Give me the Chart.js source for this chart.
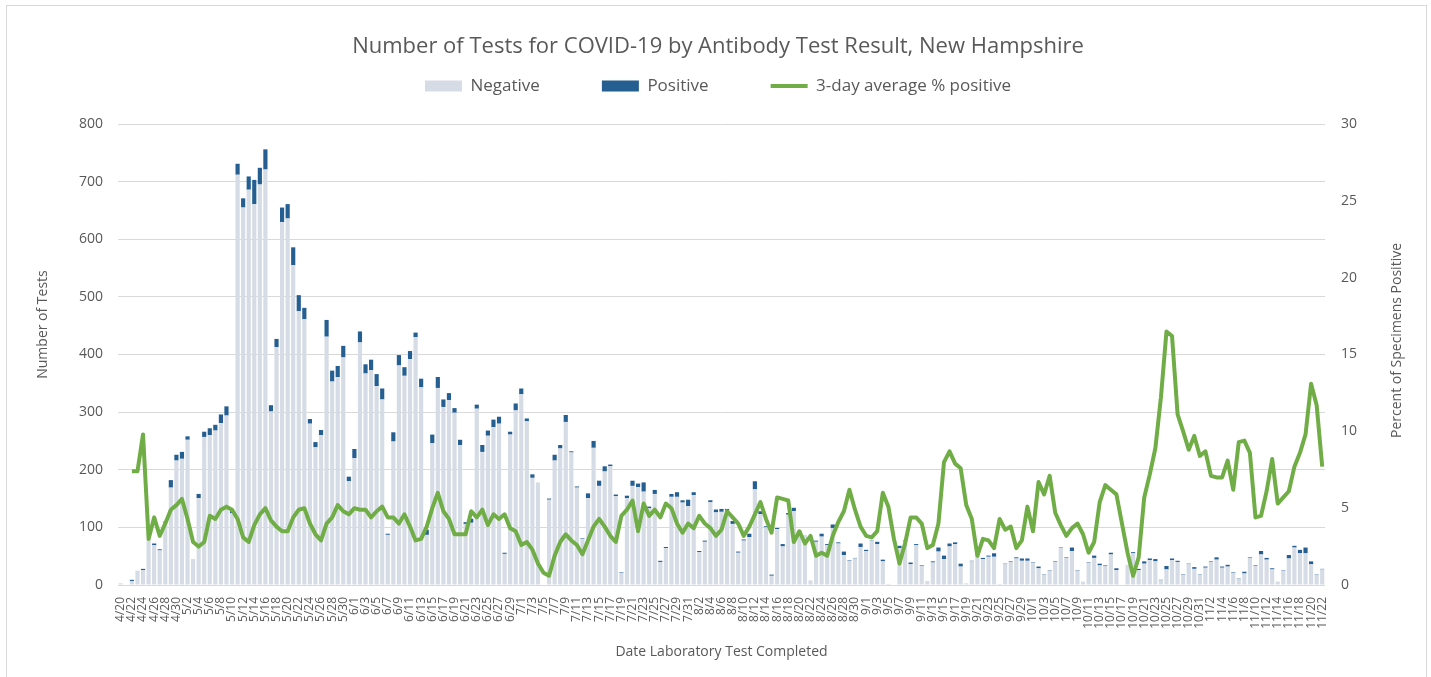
<!DOCTYPE html>
<html>
<head>
<meta charset="utf-8">
<title>Number of Tests for COVID-19 by Antibody Test Result, New Hampshire</title>
<script src="https://cdn.jsdelivr.net/npm/chart.js@4.4.1/dist/chart.umd.min.js"></script>
<style>
  html, body { margin: 0; padding: 0; background: #fff; overflow: hidden; }
  #frame { position: absolute; left: 6px; top: 5px; width: 1419px; height: 700px; border: 1px solid #d9d9d9; }
  #wrap { position: absolute; left: 0; top: 0; width: 1431px; height: 677px; }
</style>
</head>
<body>
<div id="frame"></div>
<div id="wrap"><canvas id="chart" width="1431" height="677"></canvas></div>
<script>
// one entry per day, 4/20 .. 11/22 (2020)
const dates = [];
for (let i = 0; i < 217; i++) {
    const d = new Date(2020, 3, 20 + i);
    dates.push((d.getMonth() + 1) + '/' + d.getDate());
}

const negative = [
    3, 0, 7, 25, 26, 80, 69, 60, 108, 169,
    216, 219, 252, 45, 151, 257, 260, 268, 281, 294,
    125, 712, 655, 686, 661, 695, 721, 301, 413, 630,
    636, 555, 475, 461, 280, 239, 260, 431, 353, 361,
    395, 180, 220, 421, 367, 373, 345, 322, 87, 249,
    381, 363, 392, 430, 343, 87, 246, 342, 309, 321,
    299, 243, 106, 108, 306, 231, 259, 274, 280, 54,
    261, 303, 331, 284, 186, 178, 0, 148, 216, 237,
    283, 230, 169, 80, 151, 238, 172, 197, 206, 154,
    21, 151, 172, 170, 162, 133, 158, 40, 64, 153,
    153, 143, 137, 156, 57, 75, 144, 126, 127, 129,
    106, 56, 77, 83, 166, 123, 100, 16, 97, 67,
    122, 128, 92, 87, 8, 75, 84, 69, 99, 72,
    52, 42, 46, 66, 59, 76, 71, 41, 2, 0,
    64, 77, 36, 69, 33, 7, 39, 58, 45, 67,
    71, 32, 3, 41, 58, 45, 49, 49, 2, 36,
    40, 46, 42, 42, 38, 29, 17, 24, 40, 64,
    47, 59, 25, 6, 38, 47, 34, 33, 53, 26,
    1, 35, 55, 26, 37, 43, 41, 8, 27, 43,
    40, 18, 36, 28, 17, 30, 40, 44, 30, 32,
    21, 10, 20, 47, 33, 53, 44, 27, 6, 25,
    46, 65, 55, 55, 36, 17, 27
];

const positive = [
    0, 0, 2, 0, 2, 0, 3, 2, 2, 13,
    10, 12, 6, 0, 7, 9, 12, 10, 15, 16,
    3, 19, 16, 23, 42, 29, 35, 11, 14, 25,
    25, 31, 28, 20, 8, 9, 9, 29, 19, 19,
    20, 8, 16, 19, 16, 18, 21, 19, 2, 16,
    18, 15, 14, 8, 15, 9, 15, 19, 13, 12,
    8, 9, 3, 7, 7, 12, 9, 13, 12, 2,
    5, 12, 10, 5, 6, 0, 0, 2, 10, 6,
    12, 2, 2, 1, 8, 12, 9, 9, 3, 3,
    1, 4, 9, 6, 16, 3, 7, 2, 2, 5,
    8, 4, 11, 5, 2, 2, 3, 5, 5, 3,
    5, 2, 2, 6, 14, 5, 2, 2, 2, 4,
    3, 6, 2, 0, 0, 2, 5, 2, 6, 2,
    6, 1, 1, 6, 2, 1, 4, 3, 0, 0,
    4, 1, 3, 2, 1, 0, 2, 7, 6, 5,
    3, 5, 0, 1, 3, 2, 2, 6, 0, 1,
    1, 2, 4, 4, 1, 3, 1, 1, 1, 1,
    1, 6, 1, 0, 1, 4, 3, 1, 3, 3,
    0, 0, 2, 2, 4, 3, 4, 1, 6, 3,
    2, 1, 1, 3, 1, 2, 1, 4, 2, 3,
    1, 1, 3, 1, 1, 6, 3, 2, 0, 1,
    6, 3, 6, 10, 5, 1, 1
];

// 3-day average % positive (right axis)
const pctPositive = [
    null, null, 7.4, 7.4, 9.8, 3.0, 4.4, 3.2, 4.0, 4.9,
    5.2, 5.6, 4.3, 2.8, 2.5, 2.8, 4.5, 4.3, 4.9, 5.1,
    4.9, 4.3, 3.1, 2.8, 3.9, 4.6, 5.0, 4.2, 3.8, 3.5,
    3.5, 4.4, 4.9, 5.0, 4.0, 3.3, 2.9, 4.0, 4.4, 5.2,
    4.8, 4.6, 5.0, 4.9, 4.9, 4.4, 4.8, 5.1, 4.4, 4.4,
    4.0, 4.6, 3.8, 2.9, 3.0, 3.8, 5.0, 6.0, 4.8, 4.3,
    3.3, 3.3, 3.3, 4.8, 4.4, 4.9, 3.9, 4.6, 4.3, 4.6,
    3.7, 3.5, 2.6, 2.8, 2.3, 1.4, 0.8, 0.6, 1.9, 2.8,
    3.3, 2.9, 2.6, 2.0, 2.9, 3.8, 4.3, 3.8, 3.2, 2.8,
    4.5, 4.9, 5.5, 3.5, 5.3, 4.5, 4.9, 4.4, 5.3, 5.0,
    4.0, 3.4, 4.0, 3.7, 4.5, 4.0, 3.7, 3.2, 3.6, 4.8,
    4.4, 4.0, 3.2, 3.8, 4.6, 5.4, 4.3, 3.4, 5.7, 5.6,
    5.5, 2.8, 3.5, 2.7, 3.2, 1.9, 2.1, 1.9, 3.2, 4.1,
    4.8, 6.2, 4.9, 3.8, 3.2, 3.1, 3.5, 6.0, 5.1, 3.0,
    1.4, 2.7, 4.4, 4.4, 4.0, 2.4, 2.6, 4.0, 8.0, 8.7,
    7.9, 7.6, 5.2, 4.3, 1.9, 3.0, 2.9, 2.4, 4.3, 3.6,
    3.8, 2.4, 2.9, 5.1, 3.5, 6.7, 5.9, 7.1, 4.7, 3.9,
    3.2, 3.7, 4.0, 3.3, 2.1, 2.8, 5.4, 6.5, 6.2, 5.9,
    4.0, 2.1, 0.6, 1.8, 5.7, 7.2, 8.9, 12.2, 16.5, 16.2,
    11.1, 10.0, 8.8, 9.7, 8.4, 8.7, 7.1, 7.0, 7.0, 8.1,
    6.2, 9.3, 9.4, 8.6, 4.4, 4.5, 6.1, 8.2, 5.3, 5.7,
    6.1, 7.7, 8.6, 9.8, 13.1, 11.7, 7.7
];

const textColor = '#595959';
const fontFamily = "'Open Sans', sans-serif";
Chart.defaults.font.family = fontFamily;
Chart.defaults.color = textColor;

// extra room between legend and plot
const legendSpacing = {
    id: 'legendSpacing',
    beforeInit(chart) {
        const fit = chart.legend.fit;
        chart.legend.fit = function () {
            fit.call(this);
            this.height += 19.5;
        };
    }
};

// both y titles read bottom-to-top
const sideTitles = {
    id: 'sideTitles',
    afterDraw(chart) {
        const {ctx, chartArea} = chart;
        const midY = (chartArea.top + chartArea.bottom) / 2;
        ctx.save();
        ctx.fillStyle = textColor;
        ctx.font = '14px ' + fontFamily;
        ctx.textAlign = 'center';
        ctx.textBaseline = 'middle';
        ctx.translate(chartArea.left - 75, midY - 30);
        ctx.rotate(-Math.PI / 2);
        ctx.fillText('Number of Tests', 0, 0);
        ctx.restore();
        ctx.save();
        ctx.fillStyle = textColor;
        ctx.font = '14px ' + fontFamily;
        ctx.textAlign = 'center';
        ctx.textBaseline = 'middle';
        ctx.translate(chartArea.right + 72, midY - 14);
        ctx.rotate(-Math.PI / 2);
        ctx.fillText('Percent of Specimens Positive', 0, 0);
        ctx.restore();
    }
};

new Chart(document.getElementById('chart'), {
    type: 'bar',
    data: {
        labels: dates,
        datasets: [{
            label: 'Negative',
            data: negative,
            backgroundColor: '#d6dce5',
            borderWidth: 0,
            barPercentage: 0.75,
            categoryPercentage: 1,
            pointStyle: 'rect',
            yAxisID: 'y',
            order: 2
        }, {
            label: 'Positive',
            data: positive,
            backgroundColor: '#255e91',
            borderWidth: 0,
            barPercentage: 0.75,
            categoryPercentage: 1,
            pointStyle: 'rect',
            yAxisID: 'y',
            order: 2
        }, {
            type: 'line',
            label: '3-day average % positive',
            data: pctPositive,
            borderColor: '#70ad47',
            backgroundColor: '#70ad47',
            borderWidth: 4,
            borderJoinStyle: 'round',
            pointRadius: 0,
            pointStyle: 'line',
            tension: 0,
            yAxisID: 'y1',
            order: 0
        }]
    },
    options: {
        responsive: false,
        animation: false,
        devicePixelRatio: 1,
        layout: { padding: { left: 25, right: 20, top: 0, bottom: 10 } },
        plugins: {
            legend: {
                position: 'top',
                title: {
                    display: true,
                    text: 'Number of Tests for COVID-19 by Antibody Test Result, New Hampshire',
                    color: textColor,
                    font: { size: 22 },
                    padding: { top: 36, bottom: -46.9 }
                },
                labels: {
                    usePointStyle: true,
                    pointStyleWidth: 37,
                    boxHeight: 11,
                    padding: 62,
                    color: textColor,
                    font: { size: 17 },
                    sort: (a, b) => a.datasetIndex - b.datasetIndex
                }
            },
            tooltip: { enabled: false }
        },
        scales: {
            x: {
                stacked: true,
                offset: true,
                grid: { display: false },
                border: { display: false },
                ticks: {
                    autoSkip: false,
                    maxRotation: 90,
                    minRotation: 90,
                    padding: 4,
                    color: textColor,
                    font: { size: 12 },
                    callback: (v, i) => i % 2 === 0 ? dates[i] : ''
                },
                title: {
                    display: true,
                    text: 'Date Laboratory Test Completed',
                    color: textColor,
                    font: { size: 14 },
                    padding: { top: 0, bottom: 7 }
                },
                afterFit: s => { s.height = 82; }
            },
            y: {
                stacked: true,
                position: 'left',
                min: 0,
                max: 800,
                ticks: { stepSize: 100, padding: 15, color: textColor, font: { size: 14 } },
                grid: { color: '#d9d9d9', drawTicks: false },
                border: { display: false },
                afterFit: s => { s.width = 93; }
            },
            y1: {
                position: 'right',
                min: 0,
                max: 30,
                ticks: { stepSize: 5, padding: 16, color: textColor, font: { size: 14 } },
                grid: { drawOnChartArea: false, drawTicks: false },
                border: { display: false },
                afterFit: s => { s.width = 86; }
            }
        }
    },
    plugins: [legendSpacing, sideTitles]
});
</script>
</body>
</html>
